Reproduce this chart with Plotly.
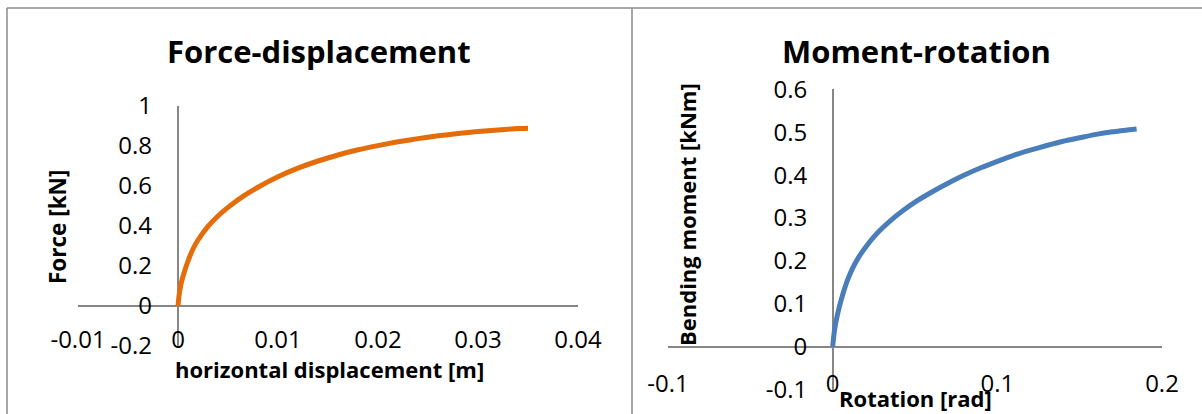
import plotly.graph_objects as go

# ---- data ----
disp_m = [0, 0.0001, 0.0003, 0.0006, 0.001, 0.0015, 0.002, 0.003, 0.004, 0.005,
          0.0065, 0.008, 0.010, 0.012, 0.014, 0.016, 0.018, 0.020, 0.022, 0.024,
          0.026, 0.028, 0.030, 0.032, 0.034, 0.035]
force_kn = [0, 0.05, 0.11, 0.165, 0.225, 0.285, 0.330, 0.398, 0.450, 0.493,
            0.548, 0.594, 0.646, 0.689, 0.725, 0.755, 0.781, 0.802, 0.821, 0.837,
            0.851, 0.862, 0.872, 0.880, 0.887, 0.889]

rot_rad = [0, 0.001, 0.002, 0.004, 0.006, 0.009, 0.012, 0.016, 0.020, 0.025,
           0.030, 0.036, 0.043, 0.050, 0.060, 0.070, 0.080, 0.090, 0.100, 0.110,
           0.120, 0.130, 0.140, 0.150, 0.160, 0.170, 0.1846]
moment_knm = [0, 0.035, 0.058, 0.092, 0.120, 0.155, 0.182, 0.210, 0.232, 0.256,
              0.276, 0.297, 0.318, 0.337, 0.360, 0.381, 0.400, 0.417, 0.432, 0.446,
              0.458, 0.469, 0.479, 0.487, 0.495, 0.501, 0.5075]

x1_ticks = [-0.01, 0, 0.01, 0.02, 0.03, 0.04]
x1_text = ["-0.01", "0", "0.01", "0.02", "0.03", "0.04"]
y1_ticks = [-0.2, 0, 0.2, 0.4, 0.6, 0.8, 1]
y1_text = ["-0.2", "0", "0.2", "0.4", "0.6", "0.8", "1"]
x2_ticks = [-0.1, 0, 0.1, 0.2]
x2_text = ["-0.1", "0", "0.1", "0.2"]
y2_ticks = [-0.1, 0, 0.1, 0.2, 0.3, 0.4, 0.5, 0.6]
y2_text = ["-0.1", "0", "0.1", "0.2", "0.3", "0.4", "0.5", "0.6"]

W, H = 1202, 414
FONT = "Open Sans"
AXC = "#868686"
TICKFONT = dict(family=FONT, size=24, color="#000000")


def px(x):
    return x / W


def py(y):
    return 1 - y / H


fig = go.Figure()
fig.add_trace(go.Scatter(x=disp_m, y=force_kn, mode="lines", xaxis="x", yaxis="y",
                         line=dict(color="#E46C0A", width=5, shape="spline", smoothing=0.5),
                         showlegend=False, hoverinfo="skip"))
fig.add_trace(go.Scatter(x=rot_rad, y=moment_knm, mode="lines", xaxis="x2", yaxis="y2",
                         line=dict(color="#4A7EBB", width=5, shape="spline", smoothing=0.5),
                         showlegend=False, hoverinfo="skip"))

common_x = dict(showgrid=False, zeroline=True, zerolinecolor=AXC, zerolinewidth=1.5,
                showline=False, ticks="", tickfont=TICKFONT, ticklabelstandoff=-23,
                fixedrange=True, automargin=False)
common_y = dict(showgrid=False, zeroline=True, zerolinecolor=AXC, zerolinewidth=1.5,
                showline=False, ticks="", tickfont=TICKFONT, ticklabelstandoff=26,
                fixedrange=True, automargin=False)

fig.update_layout(
    width=W, height=H,
    margin=dict(l=0, r=0, t=0, b=0, pad=0, autoexpand=False),
    paper_bgcolor="white", plot_bgcolor="white",
    xaxis=dict(domain=[px(78), px(578)], range=[-0.01, 0.04], anchor="y",
               tickmode="array", tickvals=x1_ticks, ticktext=x1_text, **common_x),
    yaxis=dict(domain=[py(346), py(106)], range=[-0.2, 1], anchor="free",
               position=px(178), tickmode="array", tickvals=y1_ticks, ticktext=y1_text,
               **common_y),
    xaxis2=dict(domain=[px(668), px(1162)], range=[-0.1, 0.2], anchor="y2",
                tickmode="array", tickvals=x2_ticks, ticktext=x2_text, **common_x),
    yaxis2=dict(domain=[py(389.6), py(89.3)], range=[-0.1, 0.6], anchor="free",
                position=px(833.3), tickmode="array", tickvals=y2_ticks, ticktext=y2_text,
                **common_y),
    shapes=[
        dict(type="line", xref="paper", yref="paper", x0=px(7), x1=1.0, y0=py(8), y1=py(8),
             line=dict(color="#8a8a8a", width=1.5)),
        dict(type="line", xref="paper", yref="paper", x0=px(7), x1=px(7), y0=py(8), y1=-0.05,
             line=dict(color="#8a8a8a", width=1.5)),
        dict(type="line", xref="paper", yref="paper", x0=px(632), x1=px(632), y0=py(8), y1=-0.05,
             line=dict(color="#8a8a8a", width=1.5)),
    ],
    annotations=[
        dict(text="<b>Force-displacement</b>", xref="paper", yref="paper",
             x=px(319), y=py(51), showarrow=False, xanchor="center", yanchor="middle",
             font=dict(family=FONT, size=31, color="#000000")),
        dict(text="<b>Moment-rotation</b>", xref="paper", yref="paper",
             x=px(916), y=py(51), showarrow=False, xanchor="center", yanchor="middle",
             font=dict(family=FONT, size=31, color="#000000")),
        dict(text="<b>horizontal displacement [m]</b>", xref="paper", yref="paper",
             x=px(329), y=py(369), showarrow=False, xanchor="center", yanchor="middle",
             font=dict(family=FONT, size=22, color="#000000")),
        dict(text="<b>Force [kN]</b>", xref="paper", yref="paper", textangle=-90,
             x=px(57), y=py(227), showarrow=False, xanchor="center", yanchor="middle",
             font=dict(family=FONT, size=22.5, color="#000000")),
        dict(text="<b>Rotation [rad]</b>", xref="paper", yref="paper",
             x=px(915), y=py(398), showarrow=False, xanchor="center", yanchor="middle",
             font=dict(family=FONT, size=22, color="#000000")),
        dict(text="<b>Bending moment [kNm]</b>", xref="paper", yref="paper", textangle=-90,
             x=px(687), y=py(215), showarrow=False, xanchor="center", yanchor="middle",
             font=dict(family=FONT, size=22, color="#000000")),
    ],
)

fig.write_html("out.html", config={"displayModeBar": False})
